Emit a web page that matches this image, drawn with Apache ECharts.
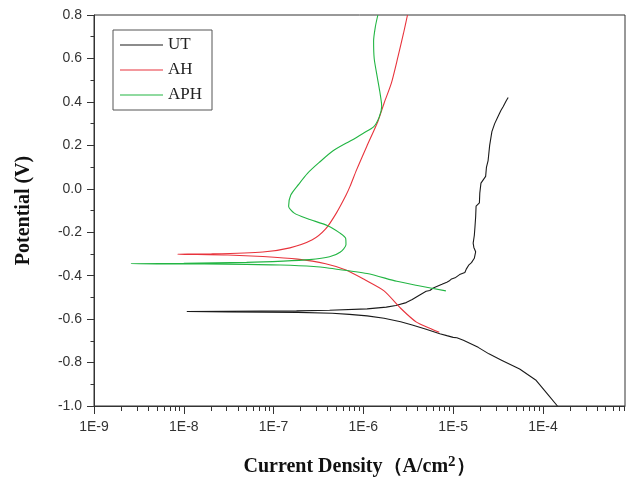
<!DOCTYPE html>
<html>
<head>
<meta charset="utf-8">
<script src="https://cdn.jsdelivr.net/npm/echarts@6/dist/echarts.min.js"></script>
<style>html,body{margin:0;padding:0;background:#fff}#c{width:630px;height:482px}</style>
</head>
<body>
<div id="c"></div>
<script>
// ---- data (current density A/cm2, potential V) ----
var seriesNames = ['UT', 'AH', 'APH'];
var seriesColors = ['#1a1a1a', '#e8333c', '#22b543'];

var utPoints = [
  [1.45e-4,-1.0],[1.15e-4,-0.95],[8.3e-5,-0.88],[5.5e-5,-0.83],[3.5e-5,-0.79],[2.5e-5,-0.76],[1.9e-5,-0.73],
  [1.3e-5,-0.697],[1.1e-5,-0.686],[1.0e-5,-0.684],[8.5e-6,-0.676],[7.1e-6,-0.667],[5e-6,-0.647],
  [3.5e-6,-0.627],[2.6e-6,-0.612],[1.7e-6,-0.596],[1.1e-6,-0.585],[7e-7,-0.578],[4.5e-7,-0.573],
  [1.85e-7,-0.569],[8e-8,-0.568],[3.2e-8,-0.567],[1.08e-8,-0.565],
  [3e-8,-0.564],[1.8e-7,-0.562],[4.2e-7,-0.559],[1.1e-6,-0.553],[1.8e-6,-0.545],[2.3e-6,-0.537],
  [3.0e-6,-0.524],[3.5e-6,-0.51],[4.2e-6,-0.49],[5e-6,-0.472],[5.5e-6,-0.468],[6e-6,-0.457],
  [7.5e-6,-0.44],[8.5e-6,-0.43],[9e-6,-0.425],[9.6e-6,-0.415],[1.05e-5,-0.41],[1.18e-5,-0.395],
  [1.35e-5,-0.385],[1.4e-5,-0.37],[1.5e-5,-0.35],[1.6e-5,-0.34],[1.72e-5,-0.32],[1.78e-5,-0.29],
  [1.7e-5,-0.27],[1.67e-5,-0.25],[1.72e-5,-0.215],[1.75e-5,-0.175],[1.78e-5,-0.13],[1.8e-5,-0.08],
  [1.96e-5,-0.065],[1.98e-5,-0.02],[2.04e-5,0.026],[2.3e-5,0.057],[2.35e-5,0.1],[2.45e-5,0.13],
  [2.55e-5,0.2],[2.7e-5,0.263],[2.9e-5,0.3],[3.15e-5,0.332],[3.4e-5,0.36],[3.6e-5,0.378],[3.9e-5,0.405],[4.1e-5,0.42]
];

var ahPoints = [
  [7e-6,-0.661],[5.5e-6,-0.642],[3.9e-6,-0.614],[2.6e-6,-0.55],[1.7e-6,-0.47],[1.05e-6,-0.42],
  [6.4e-7,-0.374],[3.8e-7,-0.345],[1.85e-7,-0.324],[7.6e-8,-0.312],[3.1e-8,-0.305],[8.5e-9,-0.301],
  [2e-8,-0.300],[7.6e-8,-0.291],[1.52e-7,-0.272],[2.7e-7,-0.235],[3.8e-7,-0.185],[5e-7,-0.112],
  [6.4e-7,-0.03],[7.1e-7,0.011],[8.4e-7,0.087],[1.09e-6,0.195],[1.45e-6,0.31],[1.7e-6,0.394],
  [2.05e-6,0.486],[2.43e-6,0.608],[2.8e-6,0.716],[3.1e-6,0.8]
];

var aphPoints = [
  [8.3e-6,-0.47],[4e-6,-0.445],[2.36e-6,-0.426],[1.1e-6,-0.39],[4.2e-7,-0.366],[2.8e-7,-0.358],
  [1.2e-7,-0.351],[5e-8,-0.348],[1.7e-8,-0.346],[2.6e-9,-0.345],
  [1e-8,-0.343],[5e-8,-0.339],[1.28e-7,-0.333],[2.5e-7,-0.326],[4.2e-7,-0.313],[5.5e-7,-0.292],
  [6.4e-7,-0.258],[6.35e-7,-0.228],[5.5e-7,-0.204],[4e-7,-0.17],[2.4e-7,-0.138],[1.7e-7,-0.112],
  [1.47e-7,-0.08],[1.55e-7,-0.03],[1.9e-7,0.02],[2.4e-7,0.072],[3.2e-7,0.12],[4.6e-7,0.175],
  [7.5e-7,0.225],[1.0e-6,0.256],[1.3e-6,0.285],[1.5e-6,0.33],[1.6e-6,0.38],[1.52e-6,0.45],
  [1.42e-6,0.52],[1.32e-6,0.6],[1.3e-6,0.68],[1.36e-6,0.746],[1.45e-6,0.8]
];

var xMajorTicks = [1e-9, 1e-8, 1e-7, 1e-6, 1e-5, 1e-4];
var xTickLabels = ['1E-9', '1E-8', '1E-7', '1E-6', '1E-5', '1E-4'];
var xMin = 1e-9, xMax = 8.2e-4;
var yMin = -1.0, yMax = 0.8, yInterval = 0.2;

// minor tick positions (2..9 per decade)
var xMinorTicks = [];
for (var d = 0; d < 6; d++) {
  for (var k = 2; k <= 9; k++) {
    var v = xMajorTicks[d] * k;
    if (v <= xMax) xMinorTicks.push(v);
  }
}

var chart = echarts.init(document.getElementById('c'));
var gridRect = {left: 94, right: 5, top: 15, bottom: 75};
var allData = [utPoints, ahPoints, aphPoints];

var option = {
  animation: false,
  grid: [
    Object.assign({show: true, borderColor: '#333', borderWidth: 1, backgroundColor: 'transparent'}, gridRect),
    Object.assign({show: false}, gridRect)
  ],
  legend: {
    orient: 'vertical',
    left: 113, top: 30,
    data: seriesNames,
    icon: 'rect',
    itemWidth: 43, itemHeight: 1.2, itemGap: 7,
    padding: [6, 10, 6, 7],
    borderColor: '#555', borderWidth: 1,
    textStyle: {fontFamily: 'Liberation Serif', fontSize: 17, color: '#222', lineHeight: 18}
  },
  xAxis: [{
    type: 'log', gridIndex: 0, min: xMin, max: xMax, logBase: 10,
    axisLine: {show: true, onZero: false, lineStyle: {color: '#333', width: 1}},
    axisTick: {show: true, customValues: xMajorTicks, length: 8, lineStyle: {color: '#333'}},
    axisLabel: {
      customValues: xMajorTicks, margin: 14,
      fontFamily: 'Liberation Sans', fontSize: 14, color: '#333',
      formatter: function (v) {
        var idx = xMajorTicks.findIndex(function (m) { return Math.abs(Math.log10(m) - Math.log10(v)) < 1e-6; });
        return idx >= 0 ? xTickLabels[idx] : '';
      }
    },
    splitLine: {show: false},
    name: '{a|Current Density（A/cm}{s|2}{a|）}',
    nameLocation: 'middle', nameGap: 49,
    nameTextStyle: {
      rich: {
        a: {fontFamily: 'Liberation Serif', fontWeight: 'bold', fontSize: 20, color: '#111', padding: [8, 0, 0, 0], lineHeight: 22, verticalAlign: 'bottom'},
        s: {fontFamily: 'Liberation Serif', fontWeight: 'bold', fontSize: 15, color: '#111', lineHeight: 15, verticalAlign: 'top'}
      }
    }
  }, {
    type: 'log', gridIndex: 1, min: xMin, max: xMax, logBase: 10, position: 'bottom',
    axisLine: {show: false, onZero: false},
    axisTick: {show: true, customValues: xMinorTicks, length: 4, lineStyle: {color: '#333'}},
    axisLabel: {show: false},
    splitLine: {show: false}
  }],
  yAxis: [{
    type: 'value', gridIndex: 0, min: yMin, max: yMax, interval: yInterval,
    axisLine: {show: true, onZero: false, lineStyle: {color: '#333', width: 1}},
    axisTick: {show: true, length: 7, lineStyle: {color: '#333'}},
    minorTick: {show: true, splitNumber: 2, length: 3.5, lineStyle: {color: '#333'}},
    axisLabel: {
      margin: 12, fontFamily: 'Liberation Sans', fontSize: 14, color: '#333',
      formatter: function (v) { return v.toFixed(1); }
    },
    splitLine: {show: false},
    name: 'Potential (V)', nameLocation: 'middle', nameGap: 60,
    nameTextStyle: {fontFamily: 'Liberation Serif', fontWeight: 'bold', fontSize: 20, color: '#111'}
  }, {
    type: 'value', gridIndex: 1, min: yMin, max: yMax, show: false
  }],
  series: seriesNames.map(function (n, i) {
    return {
      name: n, type: 'line', xAxisIndex: 0, yAxisIndex: 0,
      data: allData[i], showSymbol: false, symbol: 'none',
      smooth: i === 0 ? false : 0.25,
      lineStyle: {color: seriesColors[i], width: 1.1},
      itemStyle: {color: seriesColors[i]},
      clip: true
    };
  })
};
chart.setOption(option);
</script>
</body>
</html>
